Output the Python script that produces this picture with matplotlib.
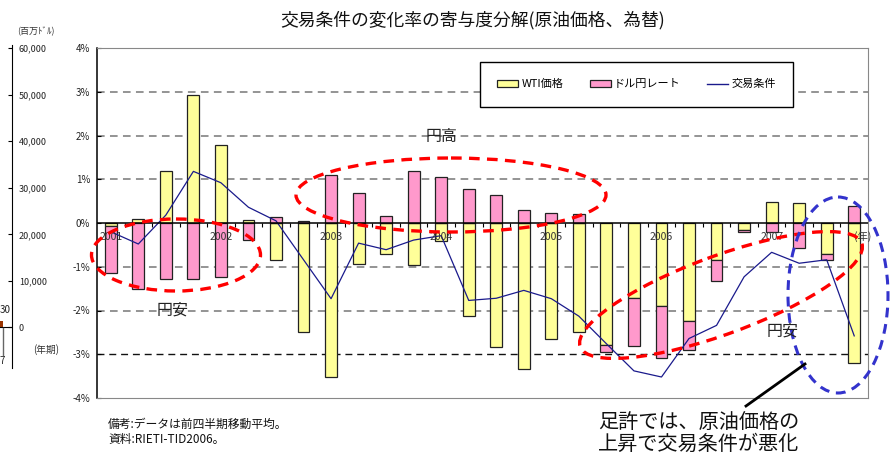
import matplotlib

matplotlib.use("Agg")
import matplotlib.pyplot as plt  # noqa: E402
import numpy as np  # noqa: E402
from matplotlib.lines import Line2D  # noqa: E402
from matplotlib.patches import Ellipse, Patch  # noqa: E402

plt.rcParams["font.family"] = ["Noto Sans CJK JP", "DejaVu Sans"]

W, H = 893, 455

# quarterly data, 2001Q1 .. 2007Q4 (contribution, %)
wti = [-0.06, 0.09, 1.18, 2.92, 1.78, 0.06, -0.84, -2.48, -3.52, -0.93,
       -0.70, -0.97, -0.42, -2.12, -2.83, -3.33, -2.64, -2.48, -2.79, -1.71,
       -1.90, -2.23, -0.85, -0.16, 0.49, 0.45, -0.70, -3.21]
usdjpy = [-1.08, -1.50, -1.29, -1.29, -1.23, -0.38, 0.14, 0.05, 1.09, 0.68,
          0.17, 1.20, 1.05, 0.77, 0.65, 0.29, 0.24, 0.20, -0.15, -1.10,
          -1.18, -0.68, -0.48, -0.05, -0.21, -0.58, -0.14, 0.40]
tot = [-0.20, -0.48, 0.18, 1.18, 0.92, 0.36, 0.05, -0.84, -1.73, -0.46,
       -0.61, -0.39, -0.29, -1.77, -1.72, -1.54, -1.73, -2.13, -2.76, -3.38,
       -3.52, -2.64, -2.34, -1.23, -0.67, -0.92, -0.84, -2.58]
year_labels = ["2001", "2002", "2003", "2004", "2005", "2006", "2007"]
year_pos = [0, 4, 8, 12, 16, 20, 24]
yticks = [-4, -3, -2, -1, 0, 1, 2, 3, 4]

# cut-off neighbour chart on the left edge
left_ticks = [0, 10000, 20000, 30000, 40000, 50000, 60000]
left_bar = [1500]


def fx(x):
    return x / W


def fy(y):
    return 1 - y / H


fig = plt.figure(figsize=(W / 100, H / 100), dpi=100)

# main axes
ax = fig.add_axes([fx(97), fy(398), (868 - 97) / W, (398 - 48) / H])
x = np.arange(len(wti))
wti_a = np.array(wti)
fx_a = np.array(usdjpy)
bottom_fx = np.where(np.sign(fx_a) == np.sign(wti_a), wti_a, 0.0)

bw = 0.43
ax.bar(x, wti_a, width=bw, color="#FFFF99", edgecolor="#222222", linewidth=0.9, zorder=3)
ax.bar(x, fx_a, bottom=bottom_fx, width=bw, color="#FF99CC", edgecolor="#222222",
       linewidth=0.9, zorder=3)
ax.plot(x, tot, color="#1a1a8c", linewidth=0.9, zorder=4)

ax.set_xlim(-0.5, len(wti) - 0.5)
ax.set_ylim(-4, 4)
for g in [1, 2, 3, -1, -2]:
    ax.axhline(g, color="#777777", linestyle=(0, (5, 3.5)), linewidth=1.1, zorder=1)
ax.axhline(-3, color="#111111", linestyle=(0, (5, 3.5)), linewidth=1.0, zorder=1)
ax.axhline(0, color="black", linewidth=1.1, zorder=5)
ax.vlines(x[:-1] + 0.5, -0.1, 0, color="black", linewidth=0.8, zorder=5)

ax.set_xticks([])
ax.set_yticks(yticks)
ax.set_yticklabels([f"{t}%" for t in yticks], fontsize=7, color="#222222")
ax.tick_params(axis="y", direction="in", length=3, pad=5)
for s in ["top", "right", "bottom"]:
    ax.spines[s].set_color("#888888")
ax.spines["left"].set_color("black")
ax.spines["left"].set_linewidth(1.1)

for lab, p in zip(year_labels, year_pos):
    ax.text(p, -0.31, lab, ha="center", va="center", fontsize=7.5, color="#333333", zorder=6)
ax.text(len(wti) - 0.7, -0.31, "(年)", ha="center", va="center", fontsize=7.5,
        color="#333333", zorder=6)

handles = [
    Patch(facecolor="#FFFF99", edgecolor="#222222", linewidth=0.9),
    Patch(facecolor="#FF99CC", edgecolor="#222222", linewidth=0.9),
    Line2D([], [], color="#1a1a8c", linewidth=1.0),
]
leg = fig.legend(handles, ["WTI価格", "ドル円レート", "交易条件"], loc="upper left",
                 bbox_to_anchor=(fx(480), fy(62)), ncol=3, fontsize=8,
                 frameon=True, fancybox=False, edgecolor="black", framealpha=1,
                 handlelength=1.9, handleheight=0.55, handletextpad=0.3,
                 columnspacing=2.35, borderpad=1.55, borderaxespad=0)
leg.get_frame().set_linewidth(1.0)

# left cut-off axis
lax = fig.add_axes([0, fy(368), fx(12), (368 - 45) / H])
lax.set_xlim(0, 1)
lax.set_ylim(-8695, 60644)
lax.bar([0.125], left_bar, width=0.25, color="#993300", zorder=3)
lax.axhline(0, color="black", linewidth=0.8)
for s in ["top", "left", "bottom"]:
    lax.spines[s].set_visible(False)
lax.spines["right"].set_color("black")
lax.patch.set_alpha(0)
lax.set_xticks([])
lax.yaxis.tick_right()
lax.set_yticks(left_ticks)
lax.set_yticklabels([f"{t:,}" for t in left_ticks], fontsize=6.5, color="#222222")
lax.tick_params(axis="y", direction="in", length=3, pad=5)

# overlay for annotations, pixel coordinates
ov = fig.add_axes([0, 0, 1, 1], zorder=10)
ov.set_xlim(0, W)
ov.set_ylim(H, 0)
ov.axis("off")
ov.patch.set_alpha(0)

red = dict(fill=False, edgecolor="#FF0000", linewidth=2.4, linestyle=(0, (3.2, 2.2)))
ov.add_patch(Ellipse((176, 255), 169, 72, **red))
ov.add_patch(Ellipse((451, 195), 310, 74, **red))
ov.add_patch(Ellipse((721, 295), 300, 78, angle=-20.2, **red))
ov.add_patch(Ellipse((838, 295), 100, 196, fill=False, edgecolor="#3333CC",
                     linewidth=2.2, linestyle=(0, (3.2, 2.2))))
ov.plot([805, 746], [364, 406], color="black", linewidth=2.0)
ov.plot([3, 3], [328, 355], color="#666666", linewidth=1.0)

ov.text(442, 137, "円高", fontsize=11.5, ha="center", va="center", color="#222222")
ov.text(173, 310, "円安", fontsize=11.5, ha="center", va="center", color="#222222")
ov.text(783, 331, "円安", fontsize=11.5, ha="center", va="center", color="#222222")
ov.text(598, 434, "足許では、原油価格の\n上昇で交易条件が悪化", fontsize=14.5, ha="left",
        va="center", color="#111111", linespacing=1.05)

fig.text(fx(473), fy(20), "交易条件の変化率の寄与度分解(原油価格、為替)", fontsize=12.8,
         ha="center", va="center", color="#111111")
fig.text(fx(108), fy(424), "備考:データは前四半期移動平均。", fontsize=8.5, ha="left",
         va="center", color="#111111")
fig.text(fx(108), fy(439), "資料:RIETI-TID2006。", fontsize=8.5, ha="left",
         va="center", color="#111111")
fig.text(fx(17), fy(31), "(百万ﾄﾞﾙ)", fontsize=6.5, ha="left", va="center", color="#333333")
fig.text(fx(33), fy(350), "(年期)", fontsize=7, ha="left", va="center", color="#333333")
fig.text(fx(0), fy(310), "30", fontsize=7, ha="left", va="center", color="#222222")
fig.text(fx(0), fy(361), "7", fontsize=7, ha="left", va="center", color="#222222")

fig.savefig("out.png", dpi=100)
